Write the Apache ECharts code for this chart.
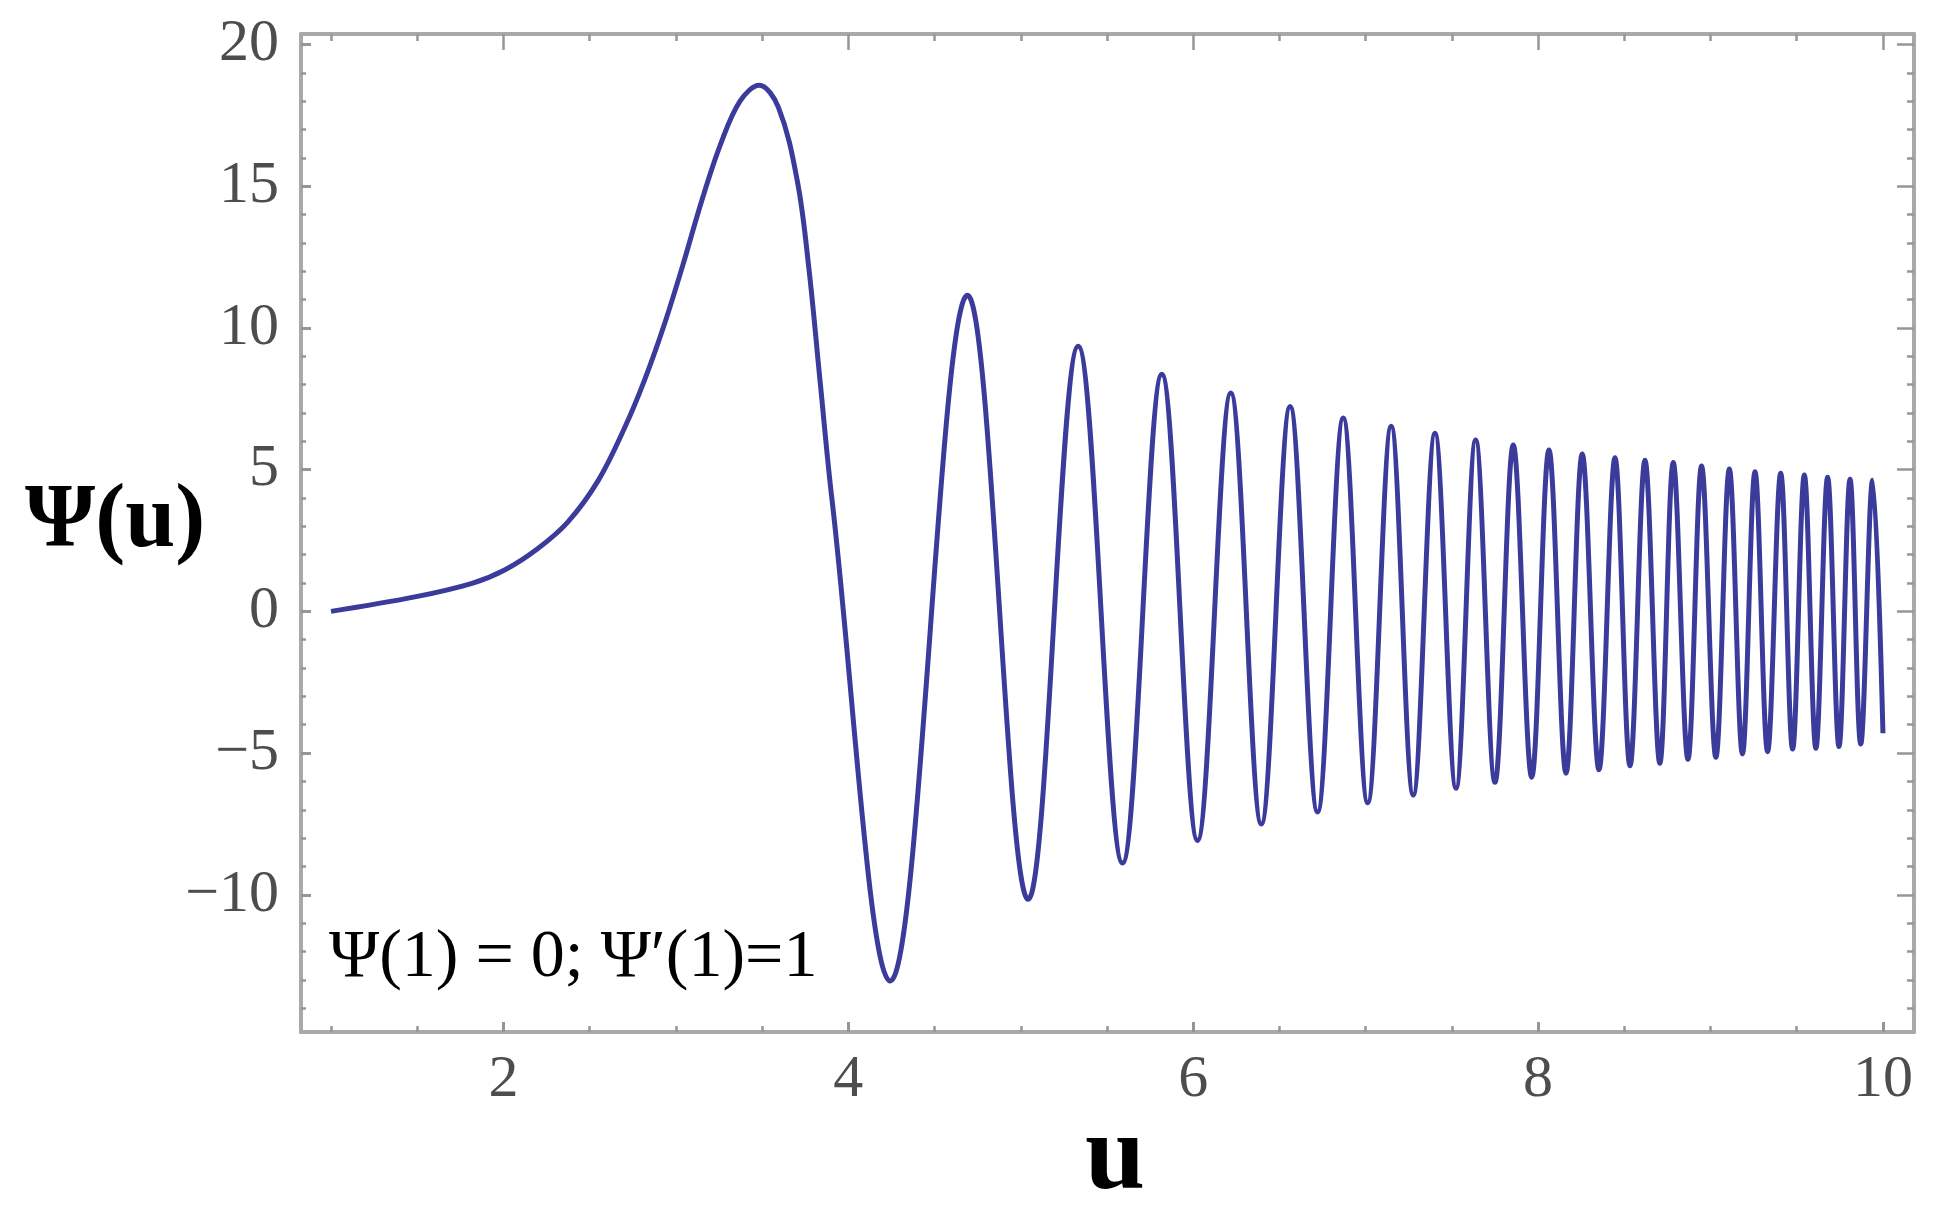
<!DOCTYPE html>
<html>
<head>
<meta charset="utf-8">
<script src="https://cdn.jsdelivr.net/npm/echarts@6/dist/echarts.min.js"></script>
<style>
html,body{margin:0;padding:0;background:#fff;}
#chart{width:1939px;height:1226px;}
</style>
</head>
<body>
<div id="chart"></div>
<script>
// ---- data ----
const uValues = [
  1.000, 1.486, 1.818, 2.007, 2.196, 2.373, 2.551, 2.706, 2.817, 2.928,
  3.039, 3.150, 3.261, 3.372, 3.483, 3.594, 3.705, 3.772, 3.838, 3.905,
  4.243, 4.691, 5.043, 5.333, 5.590, 5.818, 6.025,
  6.218, 6.395, 6.562, 6.721, 6.870, 7.012, 7.148, 7.276, 7.402, 7.524,
  7.638, 7.750, 7.856, 7.963, 8.063, 8.162, 8.256, 8.353, 8.446, 8.533,
  8.620, 8.706, 8.784, 8.869, 8.948, 9.031, 9.109, 9.185, 9.258, 9.331,
  9.407, 9.476, 9.544, 9.611, 9.679, 9.745, 9.809, 9.871, 9.940, 10.000
];
const psiValues = [
  0.00, 0.51, 0.99, 1.46, 2.20, 3.15, 4.63, 6.52, 8.14, 10.03,
  12.19, 14.49, 16.51, 18.00, 18.56, 17.79, 15.16, 12.06, 8.01, 3.96,
  -13.04, 11.15, -10.16, 9.35, -8.88, 8.37, -8.08,
  7.70, -7.50, 7.23, -7.08, 6.82, -6.75, 6.53, -6.48, 6.28, -6.24,
  6.05, -6.03, 5.87, -5.85, 5.69, -5.71, 5.55, -5.59, 5.42, -5.45,
  5.33, -5.36, 5.25, -5.22, 5.13, -5.15, 5.02, -5.03, 4.93, -4.95,
  4.87, -4.86, 4.81, -4.83, 4.73, -4.77, 4.66, -4.68, 4.63, -4.30
];
const xMajorTicks = [2, 4, 6, 8, 10];
const xMinorTicks = [1, 1.5, 2.5, 3, 3.5, 4.5, 5, 5.5, 6.5, 7, 7.5, 8.5, 9, 9.5];
const yMajorTicks = [-10, -5, 0, 5, 10, 15, 20];
const yMinorTicks = [-14, -13, -12, -11, -9, -8, -7, -6, -4, -3, -2, -1, 1, 2, 3, 4,
  6, 7, 8, 9, 11, 12, 13, 14, 16, 17, 18, 19];
const xTitle = 'u';
const yTitle = 'Ψ(u)';
const noteText = 'Ψ(1) = 0; Ψ′(1)=1';

// ---- chart ----
const X_MIN = 0.826, X_MAX = 10.18, Y_MIN = -14.84, Y_MAX = 20.37;
const FRAME = '#a9a9a9';
const TICK = '#969696';
const LABEL_FONT = 'Liberation Serif';

function fmt(v) { return v < 0 ? '\u2212' + Math.abs(v) : String(v); }

function xAxis(gridIndex, position, ticks, len, width, showLine, labels) {
  return {
    type: 'value', gridIndex: gridIndex, position: position,
    min: X_MIN, max: X_MAX,
    axisLine: { show: showLine, onZero: false, lineStyle: { color: FRAME, width: 4 } },
    axisTick: { show: true, inside: true, length: len, customValues: ticks,
      lineStyle: { color: TICK, width: width } },
    axisLabel: labels ? {
      show: true, customValues: ticks, formatter: fmt, margin: 18,
      fontFamily: LABEL_FONT, fontSize: 60, color: '#4d4d4d'
    } : { show: false },
    splitLine: { show: false }, minorTick: { show: false }
  };
}
function yAxis(gridIndex, position, ticks, len, width, showLine, labels) {
  return {
    type: 'value', gridIndex: gridIndex, position: position,
    min: Y_MIN, max: Y_MAX,
    axisLine: { show: showLine, onZero: false, lineStyle: { color: FRAME, width: 4 } },
    axisTick: { show: true, inside: true, length: len, customValues: ticks,
      lineStyle: { color: TICK, width: width } },
    axisLabel: labels ? {
      show: true, customValues: ticks, formatter: fmt, margin: 22,
      fontFamily: LABEL_FONT, fontSize: 60, color: '#4d4d4d'
    } : { show: false },
    splitLine: { show: false }, minorTick: { show: false }
  };
}

const gridBox = { left: 301, right: 25, top: 34, bottom: 194, containLabel: false };

const option = {
  animation: false,
  backgroundColor: '#ffffff',
  grid: [Object.assign({}, gridBox), Object.assign({}, gridBox)],
  xAxis: [
    xAxis(0, 'bottom', xMajorTicks, 10, 3, true, true),
    xAxis(0, 'top', xMajorTicks, 16, 2.5, true, false),
    xAxis(1, 'bottom', xMinorTicks, 6, 2.5, false, false),
    xAxis(1, 'top', xMinorTicks, 7, 2.5, false, false)
  ],
  yAxis: [
    yAxis(0, 'left', yMajorTicks, 10, 3, true, true),
    yAxis(0, 'right', yMajorTicks, 17, 2.5, true, false),
    yAxis(1, 'left', yMinorTicks, 5, 2.5, false, false),
    yAxis(1, 'right', yMinorTicks, 7, 2.5, false, false)
  ],
  graphic: [
    {
      type: 'text', left: 329, top: 924, z: 100,
      style: { text: noteText, font: '68px "Liberation Serif"', fill: '#000' }
    },
    {
      type: 'text', left: 25, top: 478, z: 100,
      style: { text: yTitle, font: 'bold 90px "Liberation Serif"', fill: '#000' }
    },
    {
      type: 'text', left: 1085, top: 1106, z: 100,
      style: { text: xTitle, font: 'bold 108px "Liberation Serif"', fill: '#000' }
    }
  ],
  series: [{
    type: 'line',
    xAxisIndex: 0, yAxisIndex: 0,
    data: uValues.map((u, i) => [u, psiValues[i]]),
    smooth: 0.36,
    showSymbol: false,
    lineStyle: { color: '#3b3b9b', width: 5 },
    itemStyle: { color: '#3b3b9b' },
    z: 5
  }]
};

const chart = echarts.init(document.getElementById('chart'), null, { renderer: 'canvas' });
chart.setOption(option);
</script>
</body>
</html>
